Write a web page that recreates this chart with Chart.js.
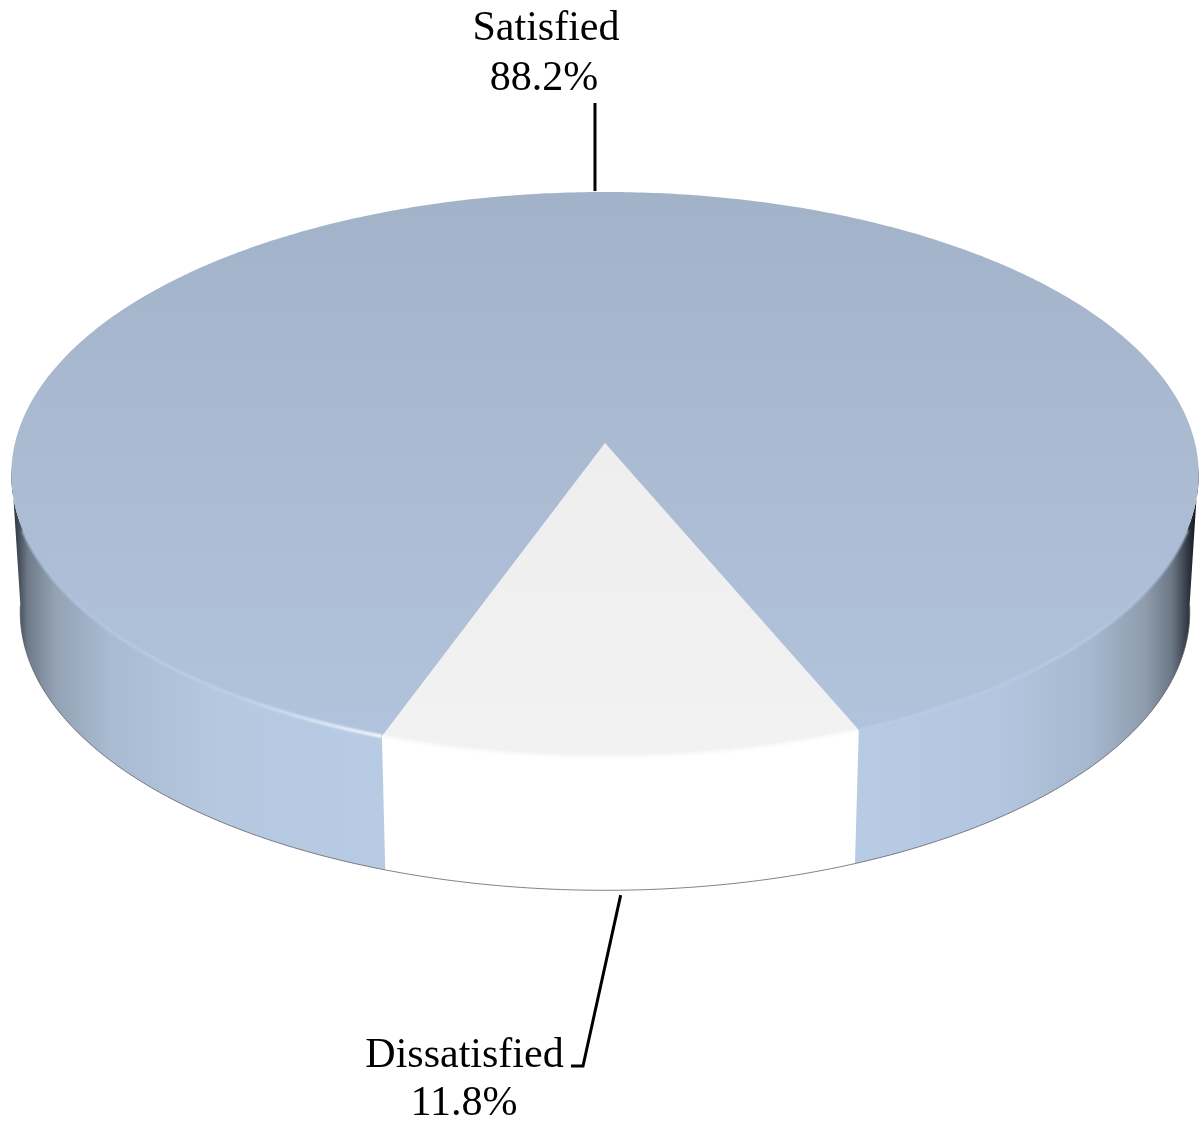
<!DOCTYPE html>
<html>
<head>
<meta charset="utf-8">
<style>html,body{margin:0;padding:0;background:#fff}canvas{display:block}</style>
<script src="https://cdn.jsdelivr.net/npm/chart.js@4/dist/chart.umd.min.js"></script>
</head>
<body>
<canvas id="c" width="1200" height="1121"></canvas>
<script>
const categories = ['Dissatisfied', 'Satisfied'];
const values = [11.8, 88.2];
const percentLabels = ['11.8%', '88.2%'];

// 3D view of the pie plane (a perspective projection of the unit circle)
const view = { cx: 605, topY: 443, baseY: 581, depth: -0.1115, halfW: 590, halfH: 279, baseScaleX: 0.985, baseScaleY: 0.985 };
const startRotation = 157.3;
const FONT = '42px "Liberation Serif", "Times New Roman", serif';

function project(a, level) {
  const u = Math.cos(a), v = Math.sin(a), w = 1 + view.depth * v;
  const sx = level === 'base' ? view.baseScaleX : 1;
  const sy = level === 'base' ? view.baseScaleY : 1;
  const y0 = level === 'base' ? view.baseY : view.topY;
  return { x: view.cx + sx * view.halfW * u / w, y: y0 + sy * view.halfH * v / w };
}
function samples(a0, a1) {
  const n = Math.max(2, Math.ceil((a1 - a0) / 0.01)), out = [];
  for (let i = 0; i <= n; i++) out.push(a0 + (a1 - a0) * i / n);
  return out;
}
function frontRuns(a0, a1, minSin) {
  const runs = []; let run = null;
  for (const a of samples(a0, a1)) {
    if (Math.sin(a) >= minSin) { (run = run || []).push(a); }
    else if (run) { runs.push(run); run = null; }
  }
  if (run) runs.push(run);
  return runs;
}

const canvas = document.getElementById('c');
const g = canvas.getContext('2d');
function vGrad(stops, y0, y1) {
  const lg = g.createLinearGradient(0, y0, 0, y1);
  stops.forEach(([p, c]) => lg.addColorStop(p, c));
  return lg;
}
function hGrad(stops) {
  const lg = g.createLinearGradient(0, 0, 1200, 0);
  stops.forEach(([x, c]) => lg.addColorStop(x / 1200, c));
  return lg;
}
const topFill = [
  vGrad([[0, '#eeeeee'], [1, '#f2f2f2']], 443, 757),
  vGrad([[0, '#a2b3c9'], [0.5, '#aabbd2'], [1, '#b2c4dd']], 192, 757)
];
const blueWall = hGrad([[10, '#171b21'], [17, '#3c444f'], [28, '#6f7b8a'], [55, '#93a2b4'], [110, '#a9bbd1'], [220, '#b5c8e0'],
  [380, '#b7cbe5'], [860, '#b7cbe5'], [1000, '#b3c6df'], [1090, '#a6b8cf'], [1145, '#8f9dae'], [1172, '#6c7786'], [1185, '#3c444f'], [1195, '#171b21']]);
const wallFill = ['#ffffff', blueWall];
const rimStroke = ['#fbfbfb', hGrad([[0, '#a8bad2'], [120, '#b4c8e2'], [240, '#bcd0ea'], [340, '#e4eefb'], [379, '#ffffff'], [860, '#b8cce6'], [1080, '#b4c8e2'], [1200, '#a8bad2']])];

// the library's arc element draws itself through the 3D view
Chart.ArcElement.prototype.draw = function (ctx) {
  const { startAngle, endAngle } = this.getProps(['startAngle', 'endAngle']);
  const i = this.$context.dataIndex;
  ctx.save();
  // side wall
  for (const run of frontRuns(startAngle, endAngle, 0.08)) {
    ctx.beginPath();
    run.forEach((a, k) => { const p = project(a, 'top'); k ? ctx.lineTo(p.x, p.y) : ctx.moveTo(p.x, p.y); });
    run.slice().reverse().forEach(a => { const p = project(a, 'base'); ctx.lineTo(p.x, p.y); });
    ctx.closePath();
    ctx.fillStyle = wallFill[i];
    ctx.fill();
    // thin dark line along the foot of the wall
    ctx.beginPath();
    run.forEach((a, k) => { const p = project(a, 'base'); k ? ctx.lineTo(p.x, p.y) : ctx.moveTo(p.x, p.y); });
    ctx.strokeStyle = 'rgba(90,90,95,0.75)';
    ctx.lineWidth = 1;
    ctx.stroke();
  }
  // top face
  ctx.beginPath();
  ctx.moveTo(view.cx, view.topY);
  samples(startAngle, endAngle).forEach(a => { const p = project(a, 'top'); ctx.lineTo(p.x, p.y); });
  ctx.closePath();
  ctx.fillStyle = this.options.backgroundColor;
  ctx.fill();
  // soft highlight on the front rim
  for (const run of frontRuns(startAngle, endAngle, 0.3)) {
    ctx.beginPath();
    run.forEach((a, k) => { const p = project(a, 'top'); k ? ctx.lineTo(p.x, p.y) : ctx.moveTo(p.x, p.y); });
    ctx.strokeStyle = rimStroke[i];
    ctx.lineWidth = 3;
    ctx.lineJoin = 'round';
    ctx.filter = 'blur(0.8px)';
    ctx.stroke();
    ctx.filter = 'none';
  }
  ctx.restore();
};

// Where each label sits and how its leader runs
const labelLayout = [
  { x: 464.5, y: 1067, lineGap: 48, pctDx: -0.5, from: 'base', leader: (m) => [[m.x - 1, m.y + 5], [583, 1066], [571, 1066]] },
  { x: 546, y: 40, lineGap: 50, pctDx: -2, from: 'top', leader: (m) => [[m.x + 3.5, m.y - 1], [m.x + 3.5, 103]] }
];

const labelPlugin = {
  id: 'pieLabels',
  afterDatasetsDraw(chart) {
    const ctx = chart.ctx;
    chart.getDatasetMeta(0).data.forEach((arc, i) => {
      const { startAngle, endAngle } = arc.getProps(['startAngle', 'endAngle']);
      const l = labelLayout[i];
      const mid = project((startAngle + endAngle) / 2, l.from);
      const pts = l.leader(mid);
      ctx.save();
      ctx.beginPath();
      pts.forEach(([x, y], k) => k ? ctx.lineTo(x, y) : ctx.moveTo(x, y));
      ctx.strokeStyle = '#000';
      ctx.lineWidth = 3;
      ctx.lineJoin = 'miter';
      ctx.stroke();
      ctx.fillStyle = '#000';
      ctx.font = FONT;
      ctx.textAlign = 'center';
      ctx.textBaseline = 'alphabetic';
      ctx.fillText(categories[i], l.x, l.y);
      ctx.fillText(percentLabels[i], l.x + l.pctDx, l.y + l.lineGap);
      ctx.restore();
    });
  }
};

new Chart(canvas, {
  type: 'pie',
  data: {
    labels: categories,
    datasets: [{ data: values, backgroundColor: topFill, borderWidth: 0 }]
  },
  options: {
    responsive: false,
    animation: false,
    rotation: startRotation,
    layout: { padding: 0 },
    plugins: { legend: { display: false }, tooltip: { enabled: false } }
  },
  plugins: [labelPlugin]
});
</script>
</body>
</html>
